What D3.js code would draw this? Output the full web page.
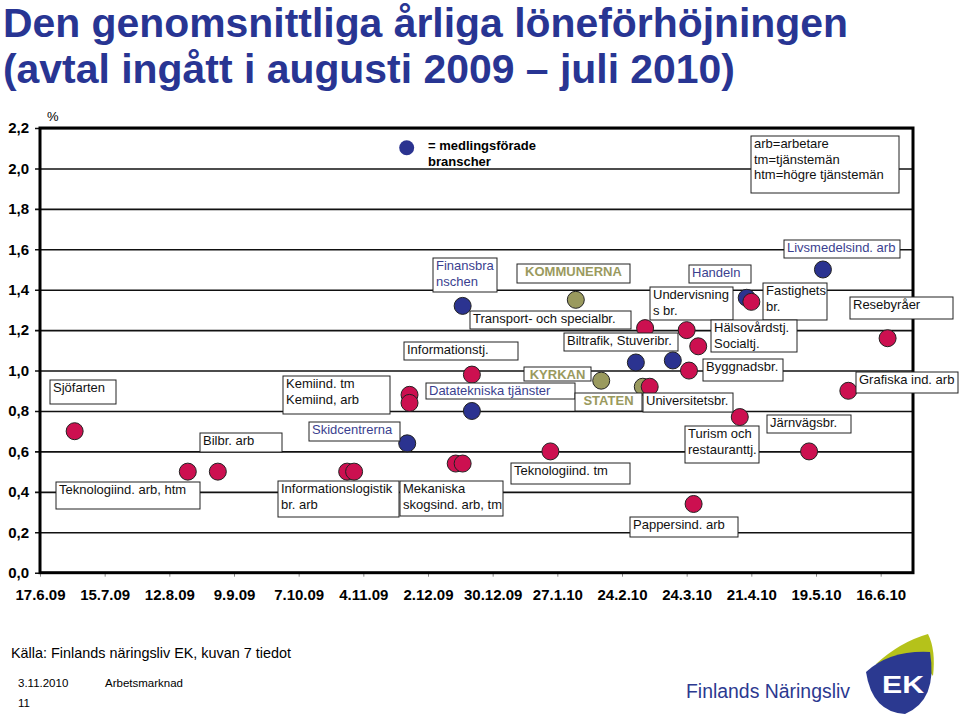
<!DOCTYPE html>
<html><head><meta charset="utf-8">
<script src="https://cdn.jsdelivr.net/npm/d3@7"></script>
<style>body{margin:0;background:#fff}svg{display:block;font-family:"Liberation Sans",Arial,Helvetica,sans-serif}</style>
</head><body><svg id="c" width="960" height="715"></svg>
<script>
// ---------- data ----------
const xTickLabels = ["17.6.09","15.7.09","12.8.09","9.9.09","7.10.09","4.11.09","2.12.09","30.12.09","27.1.10","24.2.10","24.3.10","21.4.10","19.5.10","16.6.10"];
const yTickValues = [0,0.2,0.4,0.6,0.8,1.0,1.2,1.4,1.6,1.8,2.0,2.2];

// medlingsförade branscher (blue)
const blueDates  = ["23.11.09","17.12.09","21.12.09","2.3.10","18.3.10","19.4.10","22.5.10"];
const blueValues = [0.64,1.32,0.80,1.04,1.05,1.36,1.50];

// övriga branscher (red)
const redDates  = ["2.7.09","20.8.09","2.9.09","28.10.09","31.10.09","24.11.09","24.11.09","14.12.09","17.12.09","21.12.09","24.1.10","6.3.10","8.3.10","24.3.10","25.3.10","27.3.10","29.3.10","16.4.10","21.4.10","16.5.10","2.6.10","19.6.10"];
const redValues = [0.70,0.50,0.50,0.50,0.50,0.88,0.84,0.54,0.54,0.98,0.60,1.21,0.92,1.20,1.00,0.34,1.12,0.77,1.34,0.60,0.90,1.16];

// offentliga sektorn (olive)
const oliveDates  = ["4.2.10","15.2.10","5.3.10"];
const oliveValues = [1.35,0.95,0.92];

// ---------- label annotations (layout) ----------
const annotations = [
  {t:["Sjöfarten"], b:[50,380,66,24]},
  {t:["Bilbr. arb"], b:[200,433,82,19]},
  {t:["Teknologiind. arb, htm"], b:[56,482,144,27]},
  {t:["Kemiind. tm","Kemiind, arb"], b:[283,376,107,38]},
  {t:["Skidcentrerna"], b:[309,422,91,19], k:"blue"},
  {t:["Informationslogistik","br. arb"], b:[278,481,121,36]},
  {t:["Mekaniska","skogsind. arb, tm"], b:[400,481,103,35]},
  {t:["Teknologiind. tm"], b:[511,463,119,21]},
  {t:["Informationstj."], b:[404,342,114,18]},
  {t:["Datatekniska tjänster"], b:[426,383,149,16], k:"blue"},
  {t:["KYRKAN"], b:[524,367,67,14], k:"olive"},
  {t:["STATEN"], b:[575,393,67,18], k:"olive"},
  {t:["Pappersind. arb"], b:[630,517,108,20]},
  {t:["Transport- och specialbr."], b:[470,311,161,18]},
  {t:["Biltrafik, Stuveribr."], b:[564,333,114,18]},
  {t:["Finansbra","nschen"], b:[433,258,64,34], k:"blue"},
  {t:["KOMMUNERNA"], b:[517,264,113,19], k:"olive"},
  {t:["Handeln"], b:[689,265,62,18], k:"blue"},
  {t:["Undervisning","s br."], b:[650,287,83,33]},
  {t:["Fastighets","br."], b:[763,283,64,37]},
  {t:["Hälsovårdstj.","Socialtj."], b:[711,320,86,32]},
  {t:["Byggnadsbr."], b:[703,359,80,22]},
  {t:["Universitetsbr."], b:[643,393,90,19]},
  {t:["Turism och","restauranttj."], b:[685,426,74,37]},
  {t:["Järnvägsbr."], b:[767,415,84,18]},
  {t:["Grafiska ind. arb"], b:[856,372,102,21]},
  {t:["Resebyråer"], b:[850,297,103,22]},
  {t:["Livsmedelsind. arb"], b:[784,240,116,18], k:"blue"},
  {t:["arb=arbetare","tm=tjänstemän","htm=högre tjänstemän"], b:[751,136,148,57]}
];

// ---------- drawing ----------
const parse = d3.timeParse("%d.%m.%y");
const svg = d3.select("#c");
const C = {blue:"#2b3390", red:"#cc1050", olive:"#9a9a5e", title:"#283593", lblBlue:"#3b3f8f"};

const x = d3.scaleTime().domain([new Date(2009,5,17), new Date(2010,5,30)]).range([40,913]);
const y = d3.scaleLinear().domain([0,2.2]).range([572.7,128]);

// title
const title = svg.append("g").attr("fill",C.title).attr("font-weight","bold").attr("font-size",40);
title.append("text").attr("x",3).attr("y",37).attr("textLength",845).attr("lengthAdjust","spacingAndGlyphs")
  .text("Den genomsnittliga årliga löneförhöjningen");
title.append("text").attr("x",3).attr("y",83).attr("textLength",732).attr("lengthAdjust","spacingAndGlyphs")
  .text("(avtal ingått i augusti 2009 – juli 2010)");

// gridlines + y ticks
const yAxis = d3.axisLeft(y).tickValues(yTickValues).tickSize(-(913-40)-5)
  .tickFormat(d => d3.format(".1f")(d).replace(".", ","));
const gy = svg.append("g").attr("transform","translate(35,0)").call(yAxis);
gy.select(".domain").remove();
gy.selectAll(".tick line").attr("stroke","#111").attr("stroke-width",1.6);
gy.selectAll(".tick text").attr("x",-6).attr("font-size",15).attr("font-weight","bold").attr("fill","#000")
  .attr("font-family","Liberation Sans, Arial, sans-serif");

// x axis
const xAxis = d3.axisBottom(x).tickValues(xTickLabels.map(parse)).tickSize(4).tickSizeOuter(0)
  .tickFormat((d,i) => xTickLabels[i]);
const gx = svg.append("g").attr("transform","translate(0,572.7)").call(xAxis);
gx.select(".domain").remove();
gx.selectAll(".tick line").attr("stroke","#888");
gx.selectAll(".tick text").attr("y",17).attr("dy","0.71em").attr("font-size",15).attr("font-weight","bold").attr("fill","#000")
  .attr("font-family","Liberation Sans, Arial, sans-serif");

// plot frame
svg.append("rect").attr("x",x.range()[0]).attr("y",y(2.2)).attr("width",x.range()[1]-x.range()[0])
  .attr("height",y(0)-y(2.2)).attr("fill","none").attr("stroke","#000").attr("stroke-width",3);

svg.append("text").attr("x",47).attr("y",121).attr("font-size",13).text("%");

// points
function dots(dates, values, color){
  svg.append("g").selectAll("circle").data(dates.map((d,i)=>({d:parse(d), v:values[i]}))).join("circle")
    .attr("cx", p => x(p.d)).attr("cy", p => y(p.v)).attr("r", 8.5)
    .attr("fill", color).attr("stroke","#222").attr("stroke-width",1);
}
dots(oliveDates, oliveValues, C.olive);
dots(blueDates, blueValues, C.blue);
dots(redDates, redValues, C.red);

// annotations
const ga = svg.append("g");
annotations.forEach(a => {
  const [bx,by,bw,bh] = a.b;
  ga.append("rect").attr("x",bx).attr("y",by).attr("width",bw).attr("height",bh)
    .attr("fill","#fff").attr("stroke","#222").attr("stroke-width",1);
  a.t.forEach((line,i) => {
    const t = ga.append("text").attr("x",bx+3).attr("y",by+12+i*15.5).attr("font-size",13).text(line);
    if (a.k === "blue") t.attr("fill",C.lblBlue);
    else if (a.k === "olive") t.attr("fill",C.olive).attr("font-weight","bold")
      .attr("x",bx+bw/2).attr("text-anchor","middle");
    else t.attr("fill","#111");
  });
});

// legend
svg.append("circle").attr("cx",406.7).attr("cy",147.7).attr("r",7.5).attr("fill",C.blue);
const lg = svg.append("g").attr("font-weight","bold").attr("font-size",13);
lg.append("text").attr("x",428).attr("y",150).text("= medlingsförade");
lg.append("text").attr("x",428).attr("y",165.5).text("branscher");

// footer
svg.append("text").attr("x",11).attr("y",658).attr("font-size",14.4).text("Källa: Finlands näringsliv EK, kuvan 7 tiedot");
svg.append("text").attr("x",18).attr("y",687).attr("font-size",11.5).text("3.11.2010");
svg.append("text").attr("x",105).attr("y",687).attr("font-size",11.5).text("Arbetsmarknad");
svg.append("text").attr("x",18).attr("y",707).attr("font-size",11.5).text("11");

// logo
svg.append("text").attr("x",686).attr("y",698).attr("font-size",20).attr("fill","#2b3990")
  .attr("textLength",164).attr("lengthAdjust","spacingAndGlyphs").text("Finlands Näringsliv");
svg.append("path").attr("d","M876 664 Q900 642 928 634 Q936 650 933 676 Q920 656 876 664 Z").attr("fill","#b5c21a");
svg.append("path").attr("d","M866 672 Q890 650 930 652 Q938 700 905 714 Q872 712 866 672 Z").attr("fill","#2b3990");
svg.append("text").attr("x",882).attr("y",693).attr("font-size",24).attr("font-weight","bold").attr("fill","#fff")
  .attr("textLength",42).attr("lengthAdjust","spacingAndGlyphs").text("EK");
</script></body></html>
